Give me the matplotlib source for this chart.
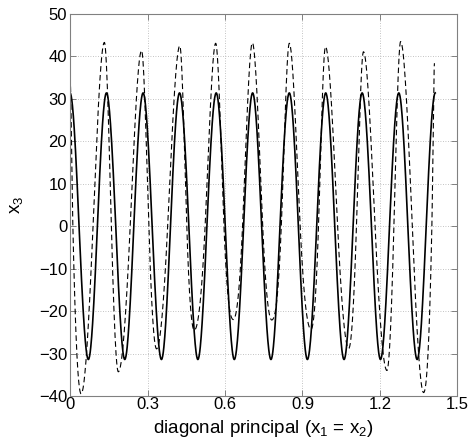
import numpy as np
import matplotlib
matplotlib.use("Agg")
import matplotlib.pyplot as plt

plt.rcParams['font.family'] = ['Liberation Sans', 'DejaVu Sans']
plt.rcParams['mathtext.fontset'] = 'custom'
plt.rcParams['mathtext.rm'] = 'Liberation Sans'
plt.rcParams['mathtext.it'] = 'Liberation Sans'

# ---- data (key points: extrema and zero crossings) ----
solid_x = [0.000, 0.035, 0.071, 0.106, 0.141, 0.177, 0.212, 0.247, 0.283, 0.318,
           0.354, 0.389, 0.424, 0.460, 0.495, 0.530, 0.566, 0.601, 0.636, 0.672,
           0.707, 0.742, 0.778, 0.813, 0.849, 0.884, 0.919, 0.955, 0.990, 1.025,
           1.061, 1.096, 1.131, 1.167, 1.202, 1.237, 1.273, 1.308, 1.344, 1.379,
           1.414]
solid_y = [31.4, 0, -31.4, 0, 31.4, 0, -31.4, 0, 31.4, 0,
           -31.4, 0, 31.4, 0, -31.4, 0, 31.4, 0, -31.4, 0,
           31.4, 0, -31.4, 0, 31.4, 0, -31.4, 0, 31.4, 0,
           -31.4, 0, 31.4, 0, -31.4, 0, 31.4, 0, -31.4, 0,
           31.4]

dashed_x = [0.000, 0.011, 0.043, 0.089, 0.133, 0.160, 0.187, 0.233, 0.277, 0.305,
            0.335, 0.378, 0.425, 0.452, 0.481, 0.523, 0.564, 0.596, 0.632, 0.668,
            0.706, 0.746, 0.781, 0.818, 0.849, 0.891, 0.933, 0.962, 0.989, 1.036,
            1.079, 1.109, 1.136, 1.181, 1.227, 1.254, 1.280, 1.325, 1.369, 1.401,
            1.411]
dashed_y = [35.0, 0, -39.5, 0, 43.3, 0, -34.3, 0, 41.4, 0,
            -28.9, 0, 42.5, 0, -24.5, 0, 43.1, 0, -22.0, 0,
            43.2, 0, -22.1, 0, 43.1, 0, -24.3, 0, 42.3, 0,
            -28.8, 0, 41.1, 0, -34.0, 0, 43.5, 0, -39.2, 0,
            38.4]

x_ticks = [0, 0.3, 0.6, 0.9, 1.2, 1.5]
x_tick_labels = ['0', '0.3', '0.6', '0.9', '1.2', '1.5']
y_ticks = [-40, -30, -20, -10, 0, 10, 20, 30, 40, 50]


def smooth(xs, ys, k=1.57, n=30):
    """Cubic Hermite rendering through the read key points."""
    xs = np.asarray(xs, float)
    ys = np.asarray(ys, float)
    m = np.zeros_like(ys)
    for i in range(1, len(xs) - 1):
        if (ys[i] - ys[i - 1]) * (ys[i + 1] - ys[i]) <= 0:
            m[i] = 0.0
        else:
            m[i] = k * (ys[i + 1] - ys[i - 1]) / (xs[i + 1] - xs[i - 1])
    px, py = [], []
    for i in range(len(xs) - 1):
        h = xs[i + 1] - xs[i]
        t = np.linspace(0, 1, n, endpoint=(i == len(xs) - 2))
        h00 = 2 * t**3 - 3 * t**2 + 1
        h10 = t**3 - 2 * t**2 + t
        h01 = -2 * t**3 + 3 * t**2
        h11 = t**3 - t**2
        px.append(xs[i] + t * h)
        py.append(h00 * ys[i] + h10 * h * m[i] + h01 * ys[i + 1] + h11 * h * m[i + 1])
    return np.concatenate(px), np.concatenate(py)


fig = plt.figure(figsize=(4.77, 4.48), dpi=100)
ax = fig.add_axes([0.1468, 0.1161, 0.8122, 0.8527])

sx, sy = smooth(solid_x, solid_y)
dx, dy = smooth(dashed_x, dashed_y)
ax.plot(sx, sy, color='black', lw=1.2, solid_joinstyle='round')
ax.plot(dx, dy, color='black', lw=0.8, linestyle=(0, (5.0, 3.0)))

ax.set_xlim(0, 1.5)
ax.set_ylim(-40, 50)
ax.set_xticks(x_ticks)
ax.set_xticklabels(x_tick_labels)
ax.set_yticks(y_ticks)
ax.grid(True, linestyle=(0, (1, 2)), color='#b0b0b0', lw=0.6)
ax.tick_params(direction='in', length=4, width=0.6, top=True, right=True,
               labelsize=12, colors='#707070', labelcolor='black')
ax.tick_params(axis='x', pad=1)
ax.tick_params(axis='y', pad=2)
for s in ax.spines.values():
    s.set_color('#808080')
    s.set_linewidth(0.8)

ax.set_xlabel(r'diagonal principal (x$_1$ = x$_2$)', fontsize=13.5, labelpad=4)
ax.set_ylabel(r'x$_3$', fontsize=13.5, labelpad=10)

fig.savefig('out.png', dpi=100)
